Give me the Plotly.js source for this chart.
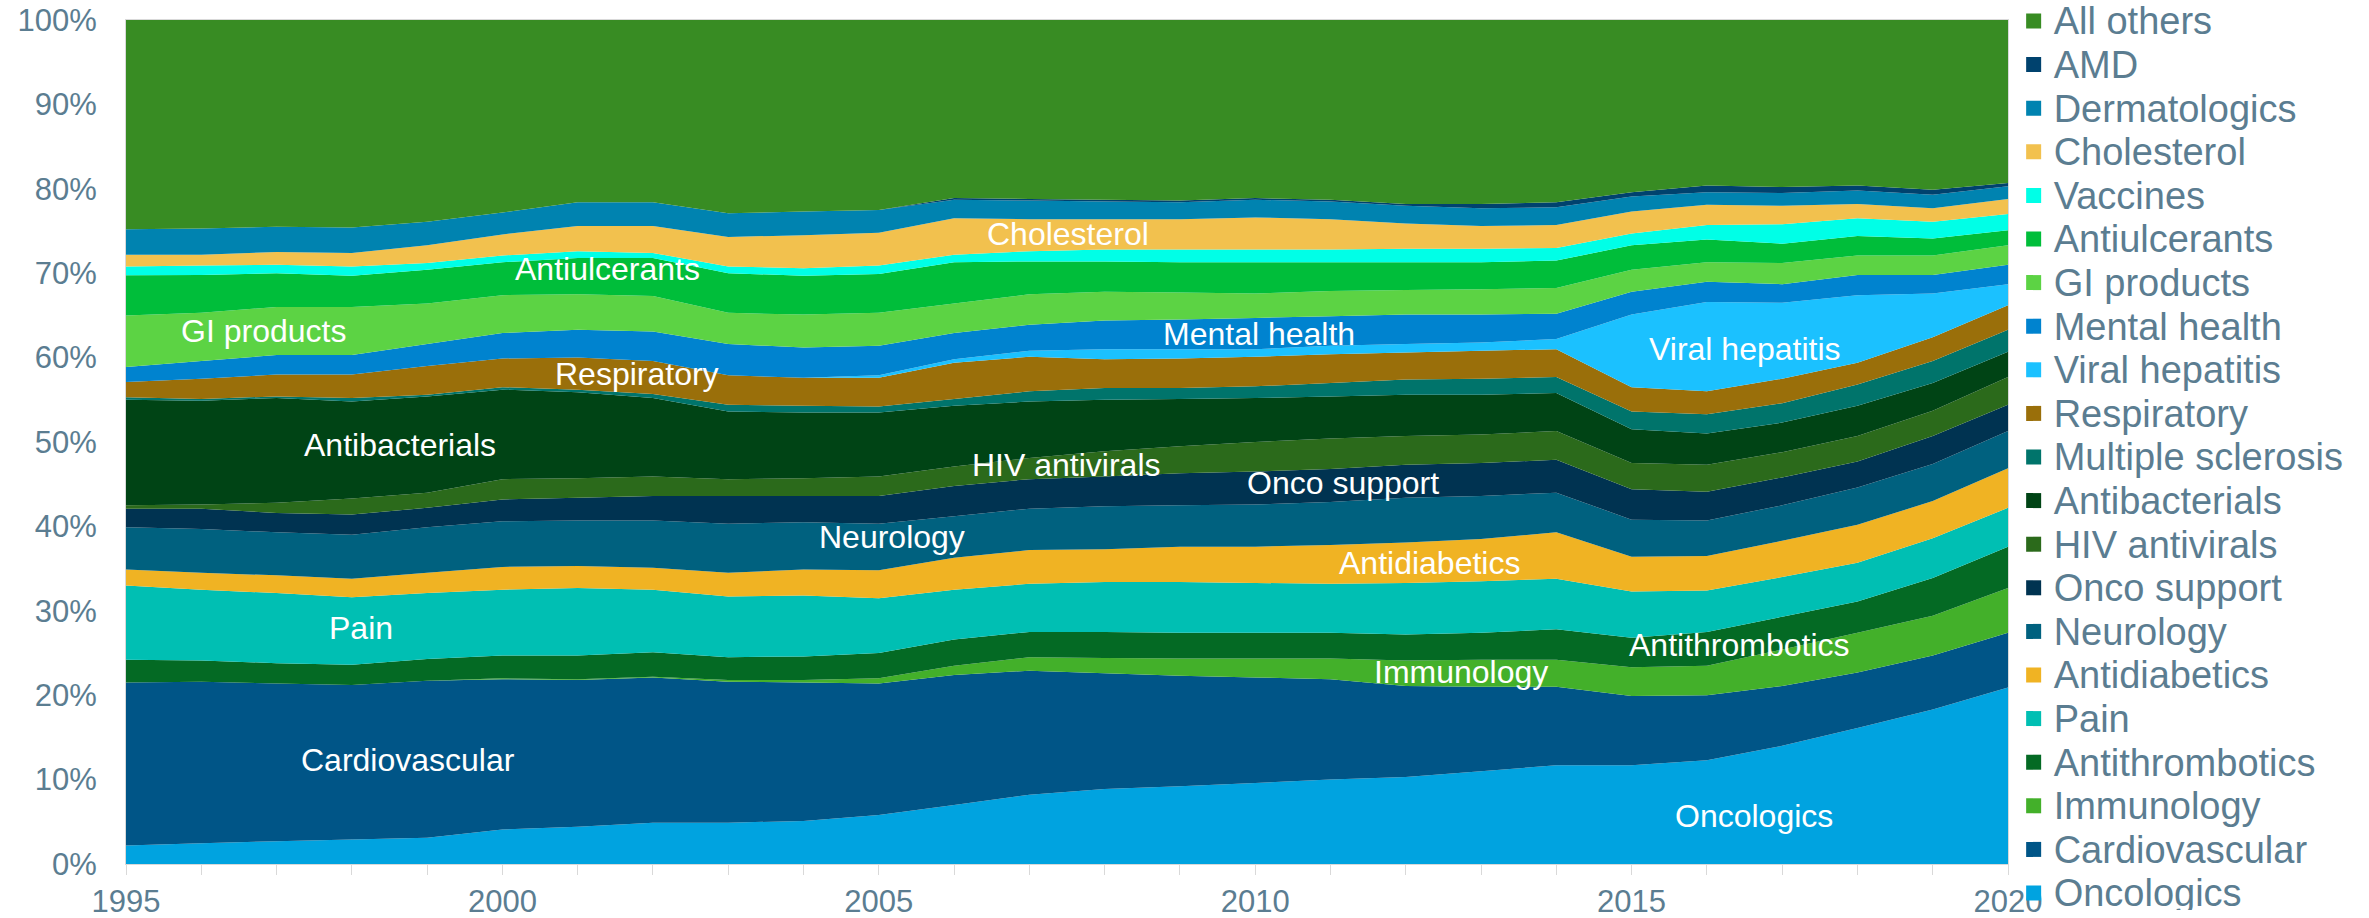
<!DOCTYPE html>
<html>
<head>
<meta charset="utf-8">
<script src="https://cdn.plot.ly/plotly-3.0.1.min.js"></script>
<style>
  html, body { margin: 0; padding: 0; background: #ffffff; }
  #chart { width: 2369px; height: 918px; }
</style>
</head>
<body>
<div id="chart"></div>
<script>
const years = [1995,1996,1997,1998,1999,2000,2001,2002,2003,2004,2005,2006,2007,2008,2009,2010,2011,2012,2013,2014,2015,2016,2017,2018,2019,2020];

const oncologics      = [2.2,2.45,2.7,2.9,3.1,4.1,4.4,4.9,4.9,5.1,5.8,7.0,8.2,8.9,9.2,9.6,10.0,10.3,11.0,11.7,11.7,12.3,14.0,16.1,18.3,20.9];
const cardiovascular  = [19.3,19.15,18.7,18.3,18.6,17.8,17.4,17.2,16.7,16.4,15.6,15.4,14.7,13.7,13.1,12.5,11.9,10.8,10.0,9.3,8.2,7.7,7.1,6.6,6.4,6.5];
const immunology      = [0,0,0,0,0,0.1,0.1,0.1,0.2,0.3,0.6,1.1,1.6,1.8,2.05,2.25,2.45,3.0,3.2,3.2,3.4,3.5,4.3,4.7,4.7,5.3];
const antithrombotics = [2.7,2.5,2.4,2.4,2.6,2.7,2.8,2.9,2.7,2.8,3.0,3.1,3.0,3.1,3.05,3.05,3.05,3.1,3.2,3.6,3.5,4.0,3.9,3.7,4.5,4.9];
const pain            = [8.8,8.4,8.3,8.0,7.8,7.8,8.0,7.4,7.2,7.2,6.5,5.9,5.7,5.9,6.0,5.9,5.8,6.1,6.1,6.0,5.5,4.9,4.7,4.6,4.7,4.6];
const antidiabetics   = [1.9,2.0,2.1,2.2,2.4,2.7,2.6,2.6,2.8,3.1,3.3,3.8,4.0,3.9,4.2,4.3,4.6,4.8,5.0,5.5,4.1,4.1,4.3,4.5,4.4,4.7];
const neurology       = [5.0,5.2,5.1,5.2,5.4,5.4,5.4,5.6,5.8,5.6,5.5,4.9,4.9,5.1,4.9,5.0,5.1,5.3,5.1,4.7,4.4,4.2,4.2,4.4,4.4,4.4];
const oncoSupport     = [2.2,2.4,2.3,2.4,2.3,2.6,2.7,2.9,3.3,3.1,3.3,3.6,3.5,3.5,3.8,3.9,3.9,3.9,3.9,3.9,3.6,3.4,3.3,3.1,3.3,3.1];
const hivAntivirals   = [0.4,0.5,1.2,1.9,1.8,2.4,2.3,2.3,2.0,2.1,2.3,2.3,2.5,3.0,3.2,3.5,3.6,3.4,3.4,3.4,3.1,3.2,3.0,3.0,3.0,3.3];
const antibacterials  = [12.5,12.3,12.4,11.5,11.4,10.6,10.2,9.3,8.0,7.8,7.6,7.2,6.7,6.1,5.6,5.2,5.0,4.9,4.7,4.5,4.0,3.7,3.5,3.6,3.3,3.0];
const multSclerosis   = [0.3,0.2,0.2,0.4,0.2,0.3,0.3,0.5,0.8,0.8,0.7,0.8,1.2,1.4,1.3,1.4,1.6,1.8,1.9,1.9,2.1,2.3,2.3,2.5,2.6,2.6];
const respiratory     = [1.8,2.4,2.6,2.8,3.4,3.4,3.8,3.9,3.5,3.3,3.4,4.3,4.1,3.4,3.5,3.5,3.4,3.2,3.3,3.3,2.9,2.7,2.9,2.6,2.8,2.9];
const viralHepatitis  = [0,0,0,0,0,0,0,0,0,0,0.3,0.4,0.7,1.2,1.1,0.9,1.0,1.0,1.0,1.2,8.6,10.6,9.0,8.0,5.2,2.5];
const mentalHealth    = [1.8,2.1,2.3,2.3,2.6,3.0,3.3,3.5,3.7,3.6,3.5,3.1,3.1,3.4,3.5,3.7,3.5,3.5,3.3,3.0,2.7,2.4,2.2,2.4,2.2,2.3];
const giProducts      = [6.1,5.7,5.7,5.7,4.8,4.5,4.2,4.2,3.7,3.9,3.9,3.5,3.6,3.4,3.2,2.9,3.0,2.9,3.0,3.05,2.6,2.3,2.5,2.3,2.3,2.3];
const antiulcerants   = [4.75,4.5,4.0,3.7,4.0,3.9,4.3,4.5,4.7,4.6,4.6,4.9,3.9,3.6,3.6,3.7,3.4,3.3,3.2,3.25,2.9,2.7,2.3,2.3,2.0,1.8];
const vaccines        = [1.05,1.1,1.0,1.1,0.8,0.8,0.8,0.6,0.8,0.9,1.0,0.9,1.2,1.4,1.5,1.5,1.5,1.6,1.6,1.5,1.4,1.7,2.3,2.1,2.0,1.9];
const cholesterol     = [1.4,1.3,1.5,1.6,2.1,2.5,3.0,3.2,3.5,3.9,3.9,4.3,3.8,3.6,3.6,3.8,3.6,3.0,2.7,2.7,2.6,2.4,2.2,1.7,1.6,1.8];
const dermatologics   = [3.0,3.1,3.0,3.0,2.8,2.6,2.8,2.8,2.8,2.8,2.7,2.2,2.2,2.1,2.0,2.1,2.1,2.1,2.1,2.1,1.8,1.5,1.5,1.6,1.6,1.5];
const amd             = [0,0,0,0,0,0,0,0,0,0,0,0.2,0.2,0.2,0.2,0.2,0.2,0.2,0.5,0.6,0.5,0.8,0.7,0.6,0.6,0.4];
const allOthers       = [24.8,24.7,24.5,24.6,23.9,22.8,21.6,21.6,22.9,22.7,22.5,21.1,21.2,21.3,21.4,21.1,21.3,21.8,21.8,21.6,20.4,19.6,19.8,19.6,20.1,19.3];

const seriesNames = ["Oncologics","Cardiovascular","Immunology","Antithrombotics","Pain","Antidiabetics","Neurology","Onco support","HIV antivirals","Antibacterials","Multiple sclerosis","Respiratory","Viral hepatitis","Mental health","GI products","Antiulcerants","Vaccines","Cholesterol","Dermatologics","AMD","All others"];
const seriesValues = [oncologics,cardiovascular,immunology,antithrombotics,pain,antidiabetics,neurology,oncoSupport,hivAntivirals,antibacterials,multSclerosis,respiratory,viralHepatitis,mentalHealth,giProducts,antiulcerants,vaccines,cholesterol,dermatologics,amd,allOthers];
const seriesColors = ["#00a3e0","#005587","#43b02a","#046a24","#00bfb3","#f0b323","#00617f","#003351","#2b6a1b","#004415","#00746b","#9a6f0a","#1bc1ff","#0083cf","#5cd344","#00be3a","#00ffe7","#f2c14e","#0083b0","#00426e","#388c23"];

const inLabels = ["GI products","Antiulcerants","Cholesterol","Respiratory","Antibacterials","Mental health","Viral hepatitis","HIV antivirals","Onco support","Neurology","Antidiabetics","Pain","Cardiovascular","Immunology","Antithrombotics","Oncologics"];
const inLabelX = [1996.82,2001.40,2007.51,2001.79,1998.64,2010.05,2016.51,2007.49,2011.17,2005.18,2012.31,1998.12,1998.75,2012.74,2016.43,2016.63];
const inLabelY = [63.2,70.5,74.6,58.0,49.7,62.75,61.0,47.3,45.1,38.8,35.7,28.0,12.3,22.8,25.9,5.7];

const tickText = "#5b7d91";
const fontFam = "Liberation Sans, Arial, sans-serif";
const legendTextPx = 38;
const legendBaseFont = 16.15;
const legendRowPitch = 43.6;
const legendItemH = legendBaseFont * 1.3 + 3;
const legendShift = 13.6 - 0.39 * legendBaseFont;

const traces = [];
seriesNames.forEach((name, i) => {
  traces.push({
    type: "scatter", mode: "none", x: years, y: seriesValues[i], name: name,
    stackgroup: "one", groupnorm: "percent", fillcolor: seriesColors[i],
    line: {width: 0}, showlegend: false, hoverinfo: "skip"
  });
});
for (let i = seriesNames.length - 1; i >= 0; i--) {
  traces.push({
    type: "scatter", mode: "markers", x: [null], y: [null],
    name: '<span style="font-size:' + legendTextPx + 'px;baseline-shift:-' + legendShift.toFixed(1) + 'px">' + seriesNames[i] + '</span>',
    legendgroup: "g" + i,
    marker: {symbol: "square", size: 15, color: seriesColors[i]},
    showlegend: true, hoverinfo: "skip"
  });
}

const annotations = inLabels.map((t, i) => ({
  x: inLabelX[i], y: inLabelY[i], xref: "x", yref: "y", text: t, showarrow: false,
  xanchor: "center", yanchor: "middle",
  font: {family: fontFam, size: 32, color: "#ffffff"}
}));

const layout = {
  width: 2369, height: 918,
  margin: {l: 126, r: 361, t: 0, b: 54, pad: 0},
  paper_bgcolor: "#ffffff", plot_bgcolor: "#ffffff",
  showlegend: true,
  hovermode: false,
  font: {family: fontFam, size: 31, color: tickText},
  xaxis: {
    range: [1995, 2020], tickmode: "array",
    tickvals: [1995,2000,2005,2010,2015,2020],
    ticktext: ["1995","2000","2005","2010","2015","2020"],
    ticks: "outside", ticklen: 10, tickcolor: "#d9d9d9", tickwidth: 1,
    minor: {dtick: 1, tick0: 1995, ticks: "outside", ticklen: 10, tickcolor: "#d9d9d9", tickwidth: 1, showgrid: false},
    showgrid: false, zeroline: false, showline: true, linecolor: "#d9d9d9", linewidth: 1, mirror: true,
    tickfont: {family: fontFam, size: 31, color: tickText}, fixedrange: true
  },
  yaxis: {
    range: [0, 100], dtick: 10, ticksuffix: "%",
    domain: [0, 844/864],
    showgrid: false, zeroline: false, showline: true, linecolor: "#d9d9d9", linewidth: 1, mirror: true,
    ticks: "", ticklabelstandoff: 22,
    tickfont: {family: fontFam, size: 31, color: tickText}, fixedrange: true
  },
  legend: {
    x: 1.003, xanchor: "left", y: 1 - 4/864, yanchor: "top",
    maxheight: 918,
    traceorder: "grouped",
    tracegroupgap: legendRowPitch - legendItemH,
    font: {family: fontFam, size: legendBaseFont, color: tickText},
    bgcolor: "rgba(0,0,0,0)", borderwidth: 0, itemclick: false, itemdoubleclick: false
  },
  annotations: annotations
};

Plotly.newPlot("chart", traces, layout, {displayModeBar: false, staticPlot: true});
</script>
</body>
</html>
